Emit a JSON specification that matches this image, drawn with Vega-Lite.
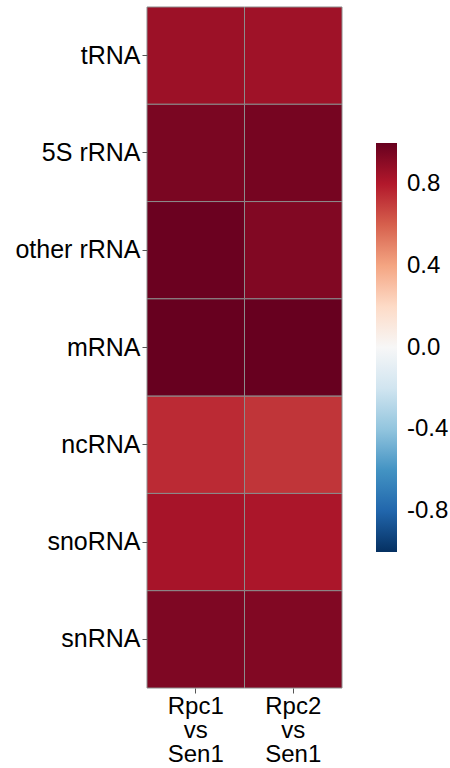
{
  "$schema": "https://vega.github.io/schema/vega-lite/v6.json",
  "width": 195,
  "height": 681,
  "autosize": "none",
  "padding": {"left": 147, "top": 7, "right": 108, "bottom": 80},
  "background": "white",
  "config": {"view": {"stroke": null}, "font": "Liberation Sans"},
  "data": {"values": [
    {"type": "tRNA", "cmp": "Rpc1 vs Sen1", "r": 0.86},
    {"type": "tRNA", "cmp": "Rpc2 vs Sen1", "r": 0.85},
    {"type": "5S rRNA", "cmp": "Rpc1 vs Sen1", "r": 0.95},
    {"type": "5S rRNA", "cmp": "Rpc2 vs Sen1", "r": 0.96},
    {"type": "other rRNA", "cmp": "Rpc1 vs Sen1", "r": 0.99},
    {"type": "other rRNA", "cmp": "Rpc2 vs Sen1", "r": 0.93},
    {"type": "mRNA", "cmp": "Rpc1 vs Sen1", "r": 1.0},
    {"type": "mRNA", "cmp": "Rpc2 vs Sen1", "r": 1.0},
    {"type": "ncRNA", "cmp": "Rpc1 vs Sen1", "r": 0.75},
    {"type": "ncRNA", "cmp": "Rpc2 vs Sen1", "r": 0.72},
    {"type": "snoRNA", "cmp": "Rpc1 vs Sen1", "r": 0.83},
    {"type": "snoRNA", "cmp": "Rpc2 vs Sen1", "r": 0.82},
    {"type": "snRNA", "cmp": "Rpc1 vs Sen1", "r": 0.94},
    {"type": "snRNA", "cmp": "Rpc2 vs Sen1", "r": 0.93}
  ]},
  "mark": {"type": "rect", "stroke": "#8c8c8c", "strokeWidth": 1},
  "encoding": {
    "x": {
      "field": "cmp", "type": "nominal", "sort": null, "title": null,
      "scale": {"paddingInner": 0, "paddingOuter": 0},
      "axis": {
        "labelAngle": 0, "labelFontSize": 24, "labelColor": "black",
        "labelExpr": "split(datum.label, ' ')", "labelLineHeight": 24,
        "labelPadding": 1, "tickSize": 5, "tickColor": "#555", "domain": false,
        "labelBaseline": "top"
      }
    },
    "y": {
      "field": "type", "type": "nominal", "sort": null, "title": null,
      "scale": {"paddingInner": 0, "paddingOuter": 0},
      "axis": {
        "labelFontSize": 25, "labelColor": "black", "labelPadding": 2,
        "tickSize": 5, "tickColor": "#555", "domain": false
      }
    },
    "color": {
      "field": "r", "type": "quantitative", "title": null,
      "scale": {
        "domain": [-1, -0.8, -0.6, -0.4, -0.2, 0, 0.2, 0.4, 0.6, 0.8, 1],
        "range": ["#053061", "#2166ac", "#4393c3", "#92c5de", "#d1e5f0", "#f7f7f7", "#fddbc7", "#f4a582", "#d6604d", "#b2182b", "#67001f"],
        "interpolate": "rgb"
      },
      "legend": {
        "orient": "none", "legendX": 229, "legendY": 136,
        "gradientLength": 409, "gradientThickness": 21,
        "values": [-0.8, -0.4, 0, 0.4, 0.8],
        "labelExpr": "datum.value < 0 ? '-' + format(-datum.value, '.1f') : format(datum.value, '.1f')",
        "labelFontSize": 24, "labelColor": "black", "labelOffset": 10,
        "gradientStrokeWidth": 0
      }
    }
  }
}
